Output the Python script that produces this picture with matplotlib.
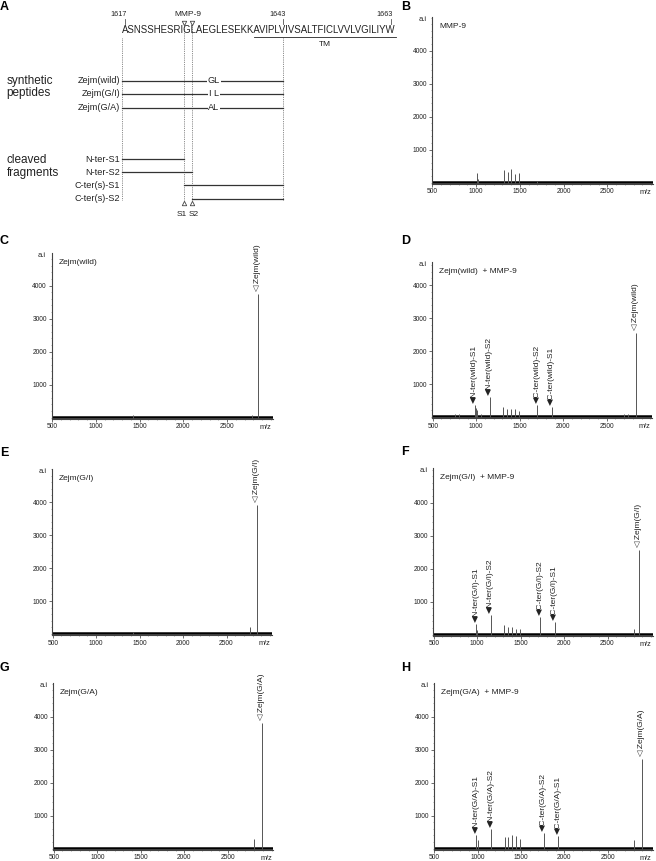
import matplotlib
matplotlib.use("Agg")
import matplotlib.pyplot as plt
from matplotlib.font_manager import FontProperties
from matplotlib.ticker import MultipleLocator

plt.rcParams["font.family"] = ["Liberation Sans", "DejaVu Sans"]

# ---- panel A: sequence scheme ----
sequence = "ASNSSHESRIGLAEGLESEKKAVIPLVIVSALTFICLVVLVGILIYW"
seq_start = 1617
numbered_residues = [1617, 1643, 1663]
site_names = ["S1", "S2"]
site_after = [1626, 1627]          # MMP-9 cuts after I1626 (S1) and G1627 (S2)
tm_first = 1638
peptide_last = 1643
peptide_names = ["Zejm(wild)", "Zejm(G/I)", "Zejm(G/A)"]
peptide_mutation = ["GL", "I L", "AL"]
fragment_names = ["N-ter-S1", "N-ter-S2", "C-ter(s)-S1", "C-ter(s)-S2"]
fragment_side = ["N", "N", "C", "C"]
fragment_site = [0, 1, 0, 1]

# ---- MALDI spectra (m/z, a.i.) ----
mz_ticks = [500, 1000, 1500, 2000, 2500]
ai_ticks = [1000, 2000, 3000, 4000]

b_mz = [1004, 1018, 1313, 1361, 1398, 1447, 1485, 1700]
b_ai = [300, 110, 370, 320, 420, 270, 300, 60]

c_mz = [1420, 2780, 2850]
c_ai = [90, 90, 3740]
c_lab_mz = [2850]
c_lab_txt = ["Zejm(wild)"]
c_lab_intact = [True]

d_mz = [760, 800, 982, 995, 1010, 1060, 1154, 1310, 1350, 1395, 1440, 1487,
        1704, 1869, 2700, 2740, 2835]
d_ai = [80, 90, 370, 260, 200, 90, 620, 300, 250, 250, 240, 180,
        370, 310, 80, 90, 2560]
d_lab_mz = [982, 1154, 1704, 1869, 2835]
d_lab_txt = ["N-ter(wild)-S1", "N-ter(wild)-S2", "C-ter(wild)-S2",
             "C-ter(wild)-S1", "Zejm(wild)"]
d_lab_intact = [False, False, False, False, True]

e_mz = [1420, 2767, 2846]
e_ai = [70, 210, 3900]
e_lab_mz = [2846]
e_lab_txt = ["Zejm(G/I)"]
e_lab_intact = [True]

f_mz = [986, 1000, 1155, 1310, 1350, 1400, 1445, 1490, 1724, 1892, 2810, 2859]
f_ai = [330, 150, 600, 300, 220, 240, 180, 170, 520, 380, 180, 2550]
f_lab_mz = [986, 1155, 1724, 1892, 2859]
f_lab_txt = ["N-ter(G/I)-S1", "N-ter(G/I)-S2", "C-ter(G/I)-S2",
             "C-ter(G/I)-S1", "Zejm(G/I)"]
f_lab_intact = [False, False, False, False, True]

g_mz = [2797, 2889]
g_ai = [280, 3800]
g_lab_mz = [2889]
g_lab_txt = ["Zejm(G/A)"]
g_lab_intact = [True]

h_mz = [982, 1000, 1154, 1310, 1350, 1395, 1440, 1490, 1761, 1930, 2805, 2893]
h_ai = [420, 250, 600, 350, 350, 400, 380, 280, 470, 370, 270, 2700]
h_lab_mz = [982, 1154, 1761, 1930, 2893]
h_lab_txt = ["N-ter(G/A)-S1", "N-ter(G/A)-S2", "C-ter(G/A)-S2",
             "C-ter(G/A)-S1", "Zejm(G/A)"]
h_lab_intact = [False, False, False, False, True]

W, H = 656, 861
PX_PER_1000 = 33.0
SEQ_X, SEQ_BASE, SEQ_SIZE = 122, 33.3, 6.95
INK = "#222222"

fig = plt.figure(figsize=(W / 100, H / 100), dpi=100)

# overlay in pixel coordinates for panel A and panel letters
ax0 = fig.add_axes([0, 0, 1, 1])
ax0.set_xlim(0, W)
ax0.set_ylim(H, 0)
ax0.axis("off")

renderer = fig.canvas.get_renderer()
seq_prop = FontProperties(family="Liberation Sans", size=SEQ_SIZE)


def edge(res):
    k = res - seq_start
    if k <= 0:
        return SEQ_X
    return SEQ_X + renderer.get_text_width_height_descent(sequence[:k], seq_prop, ismath=False)[0]


def centre(res):
    return (edge(res) + edge(res + 1)) / 2


seq_end = seq_start + len(sequence) - 1
ax0.text(SEQ_X, SEQ_BASE, sequence, fontproperties=seq_prop, ha="left",
         va="baseline", color=INK)

for r in numbered_residues:
    x = centre(r)
    ax0.plot([x, x], [18.5, 23.5], color="#555555", lw=0.6)
    ax0.text(x + 2, 14.5, str(r), ha="right", va="center", fontsize=5.2, color=INK)

# TM underline
tm_x0, tm_x1 = edge(tm_first), edge(seq_end + 1)
ax0.plot([tm_x0, tm_x1], [37.3, 37.3], color=INK, lw=0.6)
ax0.text((tm_x0 + tm_x1) / 2, 45, "TM", ha="center", va="center", fontsize=6, color=INK)

# cleavage sites
site_x = [edge(s + 1) for s in site_after]
ax0.text(sum(site_x) / 2, 14.5, "MMP-9", ha="center", va="center", fontsize=6, color=INK)
ax0.plot(site_x, [22.5] * len(site_x), ls="none", marker="v", ms=3.2,
         mfc="white", mec="#444444", mew=0.6)
ax0.plot(site_x, [202.5] * len(site_x), ls="none", marker="^", ms=3.2,
         mfc="white", mec="#444444", mew=0.6)
for i, (x, name) in enumerate(zip(site_x, site_names)):
    ax0.text(x + (-2 if i == 0 else 2), 215, name, ha="center", va="center",
             fontsize=6, color=INK)
    ax0.plot([x, x], [25, 200], color="#666666", lw=0.6, ls=(0, (1, 1.2)))

n_x = edge(seq_start)
c_x = centre(peptide_last)
for x in (n_x, c_x):
    ax0.plot([x, x], [38, 200], color="#666666", lw=0.6, ls=(0, (1, 1.2)))

# synthetic peptides
ax0.text(6.5, 87, "synthetic\npeptides", ha="left", va="center", fontsize=8.5,
         linespacing=1.05, color=INK)
pep_y = [80.5, 94, 107.5]
for y, name, mut in zip(pep_y, peptide_names, peptide_mutation):
    ax0.text(n_x - 2, y, name, ha="right", va="center", fontsize=6.6, color=INK)
    ax0.plot([n_x, c_x], [y, y], color="#333333", lw=0.9)
    ax0.text(n_x + 0.57 * (c_x - n_x), y, mut, ha="center", va="center",
             fontsize=6.6, color=INK,
             bbox=dict(facecolor="white", edgecolor="none", pad=0.6))

# cleaved fragments
ax0.text(6.5, 166.5, "cleaved\nfragments", ha="left", va="center", fontsize=8.5,
         linespacing=1.05, color=INK)
frag_y = [159, 172.3, 185.3, 198.5]
for y, name, side, s in zip(frag_y, fragment_names, fragment_side, fragment_site):
    ax0.text(n_x - 2, y, name, ha="right", va="center", fontsize=6.6, color=INK)
    x0, x1 = (n_x, site_x[s]) if side == "N" else (site_x[s], c_x)
    ax0.plot([x0, x1], [y, y], color="#333333", lw=0.9)

# panel letters
for letter, x, y in [("A", 0, 7), ("B", 401, 7), ("C", 0, 241), ("D", 401, 241),
                     ("E", 0, 453), ("F", 401, 452), ("G", 0, 668), ("H", 401, 668)]:
    ax0.text(x, y, letter, ha="left", va="center", fontsize=9, fontweight="bold",
             color="black")


def draw_spectrum(rect, mz, ai, title, lab_mz=(), lab_txt=(), lab_intact=()):
    left, right, top, bottom = rect
    ax = fig.add_axes([left / W, 1 - bottom / H, (right - left) / W, (bottom - top) / H])
    ax.patch.set_alpha(0)
    ax.set_xlim(495, 3020)
    ax.set_ylim(-30, (bottom - top) / PX_PER_1000 * 1000 - 30)
    ax.vlines(mz, 0, ai, color="#555555", lw=0.7)
    ax.axhline(25, color="black", lw=1.8, zorder=1)
    for side in ("top", "right"):
        ax.spines[side].set_visible(False)
    for side in ("left", "bottom"):
        ax.spines[side].set_color("#444444")
        ax.spines[side].set_linewidth(0.8)
    ax.set_xticks(mz_ticks)
    ax.set_yticks(ai_ticks)
    ax.xaxis.set_minor_locator(MultipleLocator(100))
    ax.yaxis.set_minor_locator(MultipleLocator(200))
    ax.tick_params(which="major", labelsize=4.8, length=2, width=0.5, pad=1.5,
                   colors="#333333", labelcolor=INK)
    ax.tick_params(which="minor", length=1, width=0.4, colors="#666666")
    ax.annotate(title, xy=(0, 1), xycoords="axes fraction", xytext=(5, -6.5),
                textcoords="offset points", fontsize=6, va="center", color=INK)
    ax.annotate("a.i", xy=(0, 1), xycoords="axes fraction", xytext=(-4, -1.5),
                textcoords="offset points", fontsize=5.5, ha="right", va="center",
                color=INK)
    ax.annotate("m/z", xy=(1, 0), xycoords="axes fraction", xytext=(-1, -6.3),
                textcoords="offset points", fontsize=5.3, ha="right", va="center",
                color=INK)
    height = dict(zip(mz, ai))
    for x, txt, intact in zip(lab_mz, lab_txt, lab_intact):
        mark = "\u25C1 " if intact else "\u25C0"
        ax.text(x, height[x] + 60, mark + txt, rotation=90, ha="center",
                va="bottom", fontsize=6, color=INK, clip_on=False)
    return ax


draw_spectrum((432, 653, 17, 183.5), b_mz, b_ai, "MMP-9")
draw_spectrum((51.7, 272.7, 253, 418.5), c_mz, c_ai, "Zejm(wild)",
              c_lab_mz, c_lab_txt, c_lab_intact)
draw_spectrum((432.3, 652, 262, 418), d_mz, d_ai, "Zejm(wild)  + MMP-9",
              d_lab_mz, d_lab_txt, d_lab_intact)
draw_spectrum((52.3, 271.7, 469, 635), e_mz, e_ai, "Zejm(G/I)",
              e_lab_mz, e_lab_txt, e_lab_intact)
draw_spectrum((433.3, 652.7, 468, 635.5), f_mz, f_ai, "Zejm(G/I)  + MMP-9",
              f_lab_mz, f_lab_txt, f_lab_intact)
draw_spectrum((53.3, 273.3, 683, 849.5), g_mz, g_ai, "Zejm(G/A)",
              g_lab_mz, g_lab_txt, g_lab_intact)
draw_spectrum((434, 652.7, 683, 849.5), h_mz, h_ai, "Zejm(G/A)  + MMP-9",
              h_lab_mz, h_lab_txt, h_lab_intact)

fig.savefig("out.png", dpi=100)
